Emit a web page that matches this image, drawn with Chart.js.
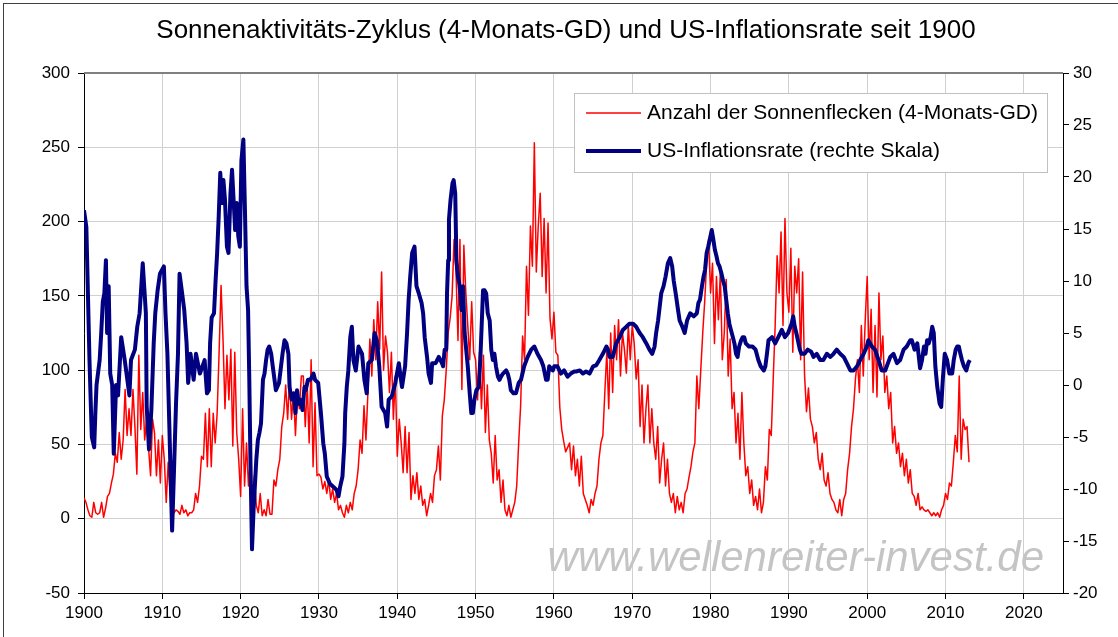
<!DOCTYPE html>
<html lang="de">
<head>
    <meta charset="UTF-8">
    <title>Sonnenaktivitäts-Zyklus und US-Inflationsrate</title>
    <script src="https://cdn.jsdelivr.net/npm/chart.js@4/dist/chart.umd.min.js"></script>
    <style>
        html, body { margin: 0; padding: 0; background: #fff; }
        canvas { display: block; }
    </style>
</head>
<body>
    <canvas id="chart" width="1118" height="637"></canvas>

    <script>
        // Titel und Legende
        const chartTitle = 'Sonnenaktivitäts-Zyklus (4-Monats-GD) und US-Inflationsrate seit 1900';
        const sunLabel = 'Anzahl der Sonnenflecken (4-Monats-GD)';
        const inflLabel = 'US-Inflationsrate (rechte Skala)';
        const watermark = 'www.wellenreiter-invest.de';

        // Sonnenflecken, Quartalswerte ab 1900
        const sunStartYear = 1900;
        const sunStep = 0.25;
        const sunspots = [
            14, 11, 6, 2,   1, 11, 4, 3,   4, 11, 1, 7,   15, 17, 24, 30,   44, 38, 58, 40,
            53, 87, 56, 74,   56, 87, 62, 30,   110, 60, 85, 53,   67, 47, 29, 67,   58, 29, 53, 24,
            56, 40, 11, 38,   17, 9, 4, 6,   5, 3, 9, 4,   6, 2, 4, 4,   6, 17, 11, 22,
            42, 40, 71, 35,   74, 35, 71, 51,   71, 112, 157, 121,   74, 110, 80, 114,   49, 112, 58, 40,
            15, 74, 22, 51,   22, 40, 11, 29,   9, 4, 17, 2,   6, 2, 13, 3,   3, 26, 22, 33,
            40, 62, 71, 90,   67, 94, 67, 85,   56, 85, 74, 96,   96, 62, 90, 51,   107, 35, 78, 29,
            30, 28, 20, 25,   17, 26, 13, 20,   11, 17, 6, 9,   4, 1, 9, 4,   11, 6, 17, 22,
            33, 53, 44, 76,   53, 85, 121, 96,   134, 107, 146, 114,   166, 100, 123, 112,   85, 112, 67, 96,
            42, 67, 51, 31,   62, 31, 58, 13,   29, 17, 31, 13,   22, 9, 13, 2,   9, 17, 11, 29,
            33, 49, 26, 69,   80, 100, 125, 135,   150, 188, 166, 120,   188, 87, 184, 152,   130, 107, 146, 112,
            107, 80, 112, 74,   110, 58, 90, 53,   44, 24, 56, 26,   33, 11, 26, 6,   2, 9, 1, 6,
            11, 22, 51, 76,   123, 107, 170, 137,   197, 170, 253, 166,   197, 219, 163, 202,   152, 199, 135, 121,
            139, 112, 110, 75,   60, 52, 45, 48,   51, 33, 49, 29,   40, 22, 42, 17,   13, 9, 4, 13,
            9, 17, 22, 40,   51, 56, 85, 112,   74, 125, 85, 130,   107, 134, 96, 125,   114, 98, 130, 107,
            130, 118, 94, 107,   62, 90, 51, 74,   90, 51, 74, 51,   40, 62, 24, 40,   51, 22, 40, 17,
            11, 17, 4, 15,   6, 11, 4, 17,   20, 28, 35, 45,   51, 96, 74, 100,   125, 146, 172, 188,
            152, 172, 118, 163,   134, 166, 107, 125,   161, 96, 121, 74,   85, 51, 71, 40,   85, 51, 29, 35,
            17, 26, 9, 15,   6, 20, 4, 11,   35, 26, 60, 56,   94, 130, 177, 152,   193, 130, 202, 152,
            139, 182, 112, 170,   152, 175, 107, 166,   97, 72, 88, 67,   62, 51, 58, 40,   33, 44, 26, 22,
            31, 17, 13, 11,   6, 4, 13, 2,   13, 17, 33, 44,   62, 74, 94, 107,   85, 130, 96, 134,
            163, 107, 141, 85,   130, 82, 152, 107,   123, 85, 96, 74,   85, 51, 62, 44,   51, 35, 44, 29,
            40, 24, 33, 17,   15, 9, 17, 6,   8, 6, 5, 6,   4, 2, 4, 2,   4, 1, 6, 9,
            17, 13, 24, 22,   38, 56, 45, 96,   40, 67, 60, 62,   38
        ];

        // US-Inflationsrate in % (Zeitpunkte und Werte)
        const inflYears = [
            1900.0, 1900.3, 1900.5, 1900.7, 1900.85, 1901.0, 1901.3, 1901.45, 1901.6, 1902.0,
            1902.2, 1902.4, 1902.6, 1902.8, 1902.95, 1903.15, 1903.35, 1903.6, 1903.8, 1904.1,
            1904.35, 1904.75, 1905.2, 1905.8, 1906.0, 1906.5, 1906.8, 1907.1, 1907.5, 1907.9,
            1908.0, 1908.3, 1908.6, 1908.9, 1909.1, 1909.4, 1909.7, 1910.2, 1910.4, 1910.65,
            1910.9, 1911.1, 1911.25, 1911.5, 1911.75, 1912.0, 1912.2, 1912.5, 1912.8, 1913.1,
            1913.3, 1913.6, 1914.0, 1914.3, 1914.8, 1915.4, 1915.7, 1915.95, 1916.1, 1916.3,
            1916.6, 1916.8, 1917.0, 1917.2, 1917.4, 1917.6, 1917.8, 1918.0, 1918.25, 1918.45,
            1918.7, 1918.9, 1919.1, 1919.3, 1919.5, 1919.7, 1919.9, 1920.1, 1920.35, 1920.55,
            1920.75, 1920.95, 1921.1, 1921.25, 1921.45, 1921.65, 1922.0, 1922.2, 1922.4, 1922.6,
            1922.85, 1923.05, 1923.25, 1923.45, 1923.65, 1923.9, 1924.1, 1924.5, 1924.9, 1925.35,
            1925.6, 1925.85, 1926.1, 1926.25, 1926.5, 1926.8, 1927.0, 1927.2, 1927.4, 1927.6,
            1927.9, 1928.15, 1928.3, 1928.6, 1928.9, 1929.3, 1929.5, 1929.9, 1930.25, 1930.55,
            1930.75, 1931.0, 1931.4, 1931.85, 1932.25, 1932.5, 1932.7, 1933.0, 1933.25, 1933.35,
            1933.55, 1933.75, 1934.0, 1934.2, 1934.4, 1934.7, 1935.05, 1935.5, 1935.8, 1936.1,
            1936.3, 1936.75, 1937.1, 1937.4, 1937.7, 1938.0, 1938.45, 1938.7, 1938.9, 1939.3,
            1939.75, 1940.2, 1940.6, 1941.0, 1941.25, 1941.45, 1941.65, 1941.9, 1942.2, 1942.45,
            1942.75, 1943.1, 1943.3, 1943.5, 1943.8, 1944.0, 1944.3, 1944.45, 1944.9, 1945.3,
            1945.7, 1945.85, 1946.05, 1946.25, 1946.35, 1946.5, 1946.6, 1946.8, 1947.05, 1947.2,
            1947.4, 1947.55, 1947.75, 1947.9, 1948.05, 1948.2, 1948.4, 1948.6, 1948.8, 1949.0,
            1949.25, 1949.45, 1949.65, 1949.85, 1950.1, 1950.4, 1950.6, 1950.8, 1950.95, 1951.15,
            1951.35, 1951.55, 1951.8, 1952.0, 1952.2, 1952.4, 1952.6, 1952.85, 1953.05, 1953.25,
            1953.5, 1953.9, 1954.1, 1954.3, 1954.5, 1954.85, 1955.15, 1955.5, 1955.8, 1956.2,
            1956.65, 1957.1, 1957.5, 1957.9, 1958.35, 1958.65, 1959.0, 1959.2, 1959.4, 1959.85,
            1960.05, 1960.45, 1960.9, 1961.3, 1961.75, 1962.15, 1962.6, 1962.85, 1963.3, 1963.7,
            1964.1, 1964.55, 1965.0, 1965.4, 1965.8, 1966.25, 1966.7, 1966.9, 1967.1, 1967.5,
            1967.75, 1967.95, 1968.4, 1968.8, 1969.25, 1969.65, 1970.1, 1970.5, 1970.95, 1971.35,
            1971.8, 1972.2, 1972.55, 1972.85, 1973.05, 1973.3, 1973.5, 1973.7, 1974.0, 1974.25,
            1974.55, 1974.85, 1975.1, 1975.3, 1975.55, 1975.85, 1976.05, 1976.4, 1976.7, 1977.0,
            1977.4, 1977.85, 1978.25, 1978.45, 1978.65, 1978.9, 1979.1, 1979.3, 1979.5, 1979.7,
            1979.9, 1980.15, 1980.35, 1980.55, 1980.75, 1980.95, 1981.15, 1981.4, 1981.6, 1981.8,
            1982.0, 1982.2, 1982.4, 1982.6, 1982.85, 1983.05, 1983.25, 1983.45, 1983.65, 1983.9,
            1984.1, 1984.3, 1984.5, 1984.9, 1985.35, 1985.75, 1986.1, 1986.4, 1986.8, 1987.0,
            1987.2, 1987.4, 1987.85, 1988.25, 1988.65, 1989.1, 1989.5, 1989.9, 1990.35, 1990.55,
            1990.75, 1990.95, 1991.15, 1991.4, 1991.6, 1992.0, 1992.4, 1992.85, 1993.15, 1993.55,
            1994.0, 1994.4, 1994.85, 1995.3, 1995.7, 1996.1, 1996.55, 1997.0, 1997.4, 1997.85,
            1998.25, 1998.7, 1999.1, 1999.55, 1999.95, 2000.15, 2000.6, 2001.0, 2001.45, 2001.85,
            2002.3, 2002.65, 2002.95, 2003.35, 2003.8, 2004.2, 2004.65, 2005.05, 2005.5, 2005.7,
            2006.05, 2006.4, 2006.75, 2007.0, 2007.25, 2007.45, 2007.65, 2007.85, 2008.1, 2008.3,
            2008.5, 2008.7, 2008.95, 2009.25, 2009.45, 2009.65, 2009.9, 2010.2, 2010.5, 2010.85,
            2011.05, 2011.3, 2011.5, 2011.7, 2011.9, 2012.1, 2012.35, 2012.65, 2012.9, 2013.1
        ];
        const inflRates = [
            16.8, 15.2, 8.8, 2.4, -1.4, -5, -6, -2.7, 0, 2.4,
            5, 8, 8.8, 12, 5, 9.5, 1.1, 0, -6.6, 0,
            -1, 4.6, 2.4, -1, 2.4, 3.4, 5.6, 6.9, 11.7, 6.9,
            -2, -6.2, -2.4, 4, 6.9, 9.1, 10.7, 11.4, 7, 3,
            -4, -10, -14, -8, -1.8, 3, 10.7, 9, 7.2, 4,
            0.2, 3, 0.5, 3, 1.1, 2.4, -0.8, -0.5, 4, 6.5,
            6.9, 10, 12.7, 16.2, 20.4, 17.5, 19.7, 17.8, 13.3, 12.7,
            18.4, 20.7, 17.8, 14.9, 17.5, 14.3, 13.3, 21.6, 23.6, 16.8,
            9.5, 7.2, 0.8, -7.2, -15.8, -12, -7.2, -5.3, -4.6, -3.7,
            0.5, 1.1, 2.4, 3.4, 3.7, 3, 1.8, -0.5, 0.2, 3,
            4.3, 4, 3, -0.2, -1.4, -0.8, -2.7, -0.5, -1.8, -1.4,
            -2.4, -0.2, -0.5, 0.5, 0.5, 1.1, 0.5, 0.2, -2.7, -5.6,
            -6.6, -8.8, -9.5, -9.8, -10.1, -10.7, -9.8, -8.8, -5.6, -2.7,
            -0.2, 1.4, 4.6, 5.6, 2.4, 1.4, 3.7, 3, 0.5, -0.8,
            2.1, 2.4, 5, 4.3, 1.8, -2.1, -2.7, -4, -1.4, -1.1,
            0.2, 2.1, -0.2, 1.8, 5, 8.2, 10.4, 12.7, 13.3, 9.5,
            8.8, 7.9, 6.9, 4.6, 2.7, 1.1, 0.2, 2.1, 2.1, 2.7,
            2.1, 1.8, 3.4, 3.4, 8.8, 12, 15.9, 17.8, 19.4, 19.7,
            18.4, 12, 10.4, 9.8, 8.8, 7.2, 9.5, 5, 3.4, 1.8,
            -0.8, -2.7, -2.7, -1.4, -0.5, -0.2, 2.4, 6.2, 9.1, 9.1,
            8.8, 6.9, 6.2, 3.4, 2.4, 3, 1.8, 0.8, 0.5, 0.8,
            1.1, 1.4, 1.1, 0.5, -0.5, -0.8, -0.8, 0.2, 0.5, 1.8,
            2.7, 3.4, 3.7, 3, 2.4, 1.8, 0.5, 0.5, 1.8, 1.4,
            1.8, 1.8, 1.1, 1.4, 0.8, 1.1, 1.3, 1.3, 1.4, 1.1,
            1.3, 1.1, 1.8, 1.9, 2.4, 3, 3.7, 3.4, 2.7, 2.7,
            3.4, 4, 4.6, 5.3, 5.6, 5.9, 5.9, 5.6, 5, 4.6,
            4, 3.4, 3, 3.7, 5, 6.2, 7.5, 8.8, 9.5, 10.4,
            11.7, 12.2, 11.4, 10, 8.8, 7.2, 6.2, 5.6, 5, 6.2,
            6.9, 6.6, 6.9, 7.9, 8.2, 9.5, 10.4, 11.1, 12.7, 13.3,
            14, 14.9, 14, 13, 12.4, 11.7, 11.4, 10.7, 10, 9.5,
            8.2, 6.9, 5.9, 5.3, 4.6, 4, 3, 2.7, 3.7, 4.3,
            4.6, 4.6, 4, 3.7, 3.7, 3.4, 2.4, 1.8, 1.4, 1.8,
            3, 4.3, 4.6, 4, 4.6, 5.3, 4.6, 5, 5.9, 6.6,
            5.6, 5, 4.3, 3.4, 3, 3, 3.4, 3.2, 2.7, 3,
            2.4, 2.4, 3, 2.7, 3, 3.4, 3, 2.7, 2.1, 1.4,
            1.4, 1.8, 2.4, 3, 3.7, 4.3, 3.7, 3.4, 2.4, 1.4,
            1.4, 2.1, 2.7, 3, 2.1, 2.4, 3.4, 3.7, 4.3, 4.3,
            3.4, 4, 1.6, 2.4, 3.7, 3, 4.3, 4, 4.6, 5.6,
            5, 1.8, -0.2, -1.8, -2.1, 0.5, 3, 2.4, 1.1, 1.1,
            2.4, 3.4, 3.7, 3.7, 3, 2.4, 1.8, 1.4, 2.1, 2.4
        ];

        // Achsen
        const xTicks = [1900, 1910, 1920, 1930, 1940, 1950, 1960, 1970, 1980, 1990, 2000, 2010, 2020];
        const fontFamily = '"Liberation Sans", Arial, sans-serif';

        const sunData = sunspots.map((v, i) => ({ x: sunStartYear + i * sunStep, y: v }));
        const inflData = inflRates.map((v, i) => ({ x: inflYears[i], y: v }));

        // Titel, Legende, Wasserzeichen, Rahmen
        const decorations = {
            id: 'decorations',
            beforeDraw(chart) {
                const c = chart.ctx;
                c.save();
                c.fillStyle = '#fff';
                c.fillRect(0, 0, chart.width, chart.height);
                c.restore();
            },
            beforeDatasetsDraw(chart) {
                const c = chart.ctx;
                c.save();
                c.font = 'italic 42px ' + fontFamily;
                c.textAlign = 'right';
                c.textBaseline = 'alphabetic';
                c.fillStyle = '#c4c4c4';
                c.fillText(watermark, 1044, 571);
                c.restore();
            },
            afterDraw(chart) {
                const c = chart.ctx;
                const area = chart.chartArea;
                c.save();
                // Rahmen oben
                c.strokeStyle = '#808080';
                c.lineWidth = 2;
                c.beginPath();
                c.moveTo(area.left, area.top);
                c.lineTo(area.right, area.top);
                c.stroke();
                // Außenrahmen
                c.strokeStyle = '#404040';
                c.lineWidth = 1;
                c.strokeRect(3.5, 3.5, chart.width + 10, chart.height + 10);

                // Titel
                c.fillStyle = '#000';
                c.font = '26px ' + fontFamily;
                c.textAlign = 'center';
                c.textBaseline = 'middle';
                c.fillText(chartTitle, 566, 31);

                // Legende
                const lx = 574, ly = 93, lw = 473, lh = 79;
                c.fillStyle = '#fff';
                c.fillRect(lx, ly, lw, lh);
                c.strokeStyle = '#c0c0c0';
                c.lineWidth = 1;
                c.strokeRect(lx + 0.5, ly + 0.5, lw, lh);
                const items = chart.data.datasets;
                const rows = [113, 151];
                items.forEach((ds, i) => {
                    c.strokeStyle = ds.borderColor;
                    c.lineWidth = ds.borderWidth;
                    c.beginPath();
                    c.moveTo(586, rows[i]);
                    c.lineTo(641, rows[i]);
                    c.stroke();
                    c.fillStyle = '#000';
                    c.font = '21px ' + fontFamily;
                    c.textAlign = 'left';
                    c.textBaseline = 'middle';
                    c.fillText(ds.label, 647, rows[i]);
                });
                c.restore();
            }
        };

        const tickFont = { family: fontFamily, size: 17 };

        new Chart(document.getElementById('chart'), {
            type: 'line',
            data: {
                datasets: [{
                    label: sunLabel,
                    data: sunData,
                    borderColor: '#ff0000',
                    borderWidth: 1.5,
                    yAxisID: 'y',
                    order: 1
                }, {
                    label: inflLabel,
                    data: inflData,
                    borderColor: '#000080',
                    borderWidth: 4,
                    yAxisID: 'y2',
                    order: 0
                }]
            },
            options: {
                responsive: false,
                animation: false,
                events: [],
                elements: {
                    point: { radius: 0 },
                    line: { tension: 0, borderJoinStyle: 'round' }
                },
                layout: { padding: { top: 73, left: 0, right: 0, bottom: 0 } },
                plugins: {
                    legend: { display: false },
                    title: { display: false },
                    tooltip: { enabled: false }
                },
                scales: {
                    x: {
                        type: 'linear',
                        min: 1900,
                        max: 2025,
                        afterBuildTicks: scale => {
                            scale.ticks = xTicks.map(v => ({ value: v }));
                        },
                        afterFit: scale => { scale.height = 44; },
                        ticks: { color: '#000', font: tickFont, padding: 4, maxRotation: 0, callback: v => String(v) },
                        grid: { color: '#d0d0d0', tickColor: '#000', tickLength: 6 },
                        border: { color: '#000', width: 1 }
                    },
                    y: {
                        position: 'left',
                        min: -50,
                        max: 300,
                        afterFit: scale => { scale.width = 84; },
                        ticks: { stepSize: 50, color: '#000', font: tickFont, padding: 8 },
                        grid: { color: '#d0d0d0', tickColor: '#000', tickLength: 6 },
                        border: { color: '#000', width: 1 }
                    },
                    y2: {
                        position: 'right',
                        min: -20,
                        max: 30,
                        afterFit: scale => { scale.width = 55; },
                        ticks: { stepSize: 5, color: '#000', font: tickFont, padding: 4 },
                        grid: { drawOnChartArea: false, tickColor: '#000', tickLength: 6 },
                        border: { color: '#000', width: 1 }
                    }
                }
            },
            plugins: [decorations]
        });
    </script>
</body>
</html>
